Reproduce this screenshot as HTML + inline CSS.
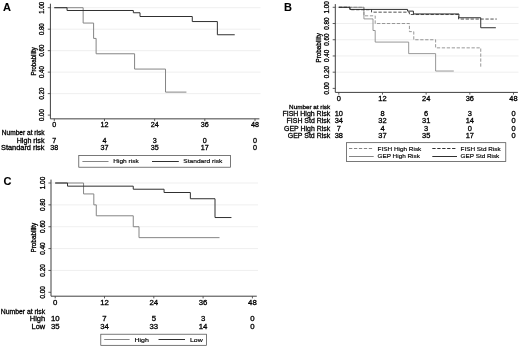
<!DOCTYPE html>
<html><head><meta charset="utf-8"><title>Figure</title>
<style>
html,body{margin:0;padding:0;background:#fff;}
svg{display:block;}
svg text{font-family:"Liberation Sans",Arial,sans-serif;fill:#000;}
</style></head>
<body>
<svg width="520" height="351" viewBox="0 0 520 351">
<rect width="520" height="351" fill="#fff"/>
<line x1="50.90" x2="260.50" y1="93.62" y2="93.62" stroke="#e4e4e4" stroke-width="0.6"/>
<line x1="50.90" x2="260.50" y1="72.14" y2="72.14" stroke="#e4e4e4" stroke-width="0.6"/>
<line x1="50.90" x2="260.50" y1="50.66" y2="50.66" stroke="#e4e4e4" stroke-width="0.6"/>
<line x1="50.90" x2="260.50" y1="29.18" y2="29.18" stroke="#e4e4e4" stroke-width="0.6"/>
<line x1="50.90" x2="260.50" y1="7.70" y2="7.70" stroke="#e4e4e4" stroke-width="0.6"/>
<path d="M50.40 3.70 V118.85 H259.40" fill="none" stroke="#404040" stroke-width="1.0"/>
<line x1="47.80" x2="50.40" y1="115.10" y2="115.10" stroke="#404040" stroke-width="0.85"/>
<text transform="translate(43.90 115.10) scale(1.13 1) rotate(-90)" text-anchor="middle" font-size="6.1" stroke="#000" stroke-width="0.28">0.00</text>
<line x1="47.80" x2="50.40" y1="93.62" y2="93.62" stroke="#404040" stroke-width="0.85"/>
<text transform="translate(43.90 93.62) scale(1.13 1) rotate(-90)" text-anchor="middle" font-size="6.1" stroke="#000" stroke-width="0.28">0.20</text>
<line x1="47.80" x2="50.40" y1="72.14" y2="72.14" stroke="#404040" stroke-width="0.85"/>
<text transform="translate(43.90 72.14) scale(1.13 1) rotate(-90)" text-anchor="middle" font-size="6.1" stroke="#000" stroke-width="0.28">0.40</text>
<line x1="47.80" x2="50.40" y1="50.66" y2="50.66" stroke="#404040" stroke-width="0.85"/>
<text transform="translate(43.90 50.66) scale(1.13 1) rotate(-90)" text-anchor="middle" font-size="6.1" stroke="#000" stroke-width="0.28">0.60</text>
<line x1="47.80" x2="50.40" y1="29.18" y2="29.18" stroke="#404040" stroke-width="0.85"/>
<text transform="translate(43.90 29.18) scale(1.13 1) rotate(-90)" text-anchor="middle" font-size="6.1" stroke="#000" stroke-width="0.28">0.80</text>
<line x1="47.80" x2="50.40" y1="7.70" y2="7.70" stroke="#404040" stroke-width="0.85"/>
<text transform="translate(43.90 7.70) scale(1.13 1) rotate(-90)" text-anchor="middle" font-size="6.1" stroke="#000" stroke-width="0.28">1.00</text>
<line x1="54.30" x2="54.30" y1="118.85" y2="121.05" stroke="#404040" stroke-width="0.85"/>
<text transform="translate(54.30 127.19) scale(1.13 1)" text-anchor="middle" font-size="6.35" stroke="#000" stroke-width="0.28">0</text>
<line x1="104.47" x2="104.47" y1="118.85" y2="121.05" stroke="#404040" stroke-width="0.85"/>
<text transform="translate(104.47 127.19) scale(1.13 1)" text-anchor="middle" font-size="6.35" stroke="#000" stroke-width="0.28">12</text>
<line x1="154.65" x2="154.65" y1="118.85" y2="121.05" stroke="#404040" stroke-width="0.85"/>
<text transform="translate(154.65 127.19) scale(1.13 1)" text-anchor="middle" font-size="6.35" stroke="#000" stroke-width="0.28">24</text>
<line x1="204.82" x2="204.82" y1="118.85" y2="121.05" stroke="#404040" stroke-width="0.85"/>
<text transform="translate(204.82 127.19) scale(1.13 1)" text-anchor="middle" font-size="6.35" stroke="#000" stroke-width="0.28">36</text>
<line x1="255.00" x2="255.00" y1="118.85" y2="121.05" stroke="#404040" stroke-width="0.85"/>
<text transform="translate(255.00 127.19) scale(1.13 1)" text-anchor="middle" font-size="6.35" stroke="#000" stroke-width="0.28">48</text>
<text transform="translate(35.80 61.40) scale(1.13 1) rotate(-90)" text-anchor="middle" font-size="6.1" stroke="#000" stroke-width="0.28">Probability</text>
<text x="3.00" y="11.40" font-size="11" font-weight="bold" stroke="#000" stroke-width="0.1">A</text>
<path d="M54.30 7.70 H83.15 V23.06 H93.60 V38.42 H96.11 V53.77 H134.58 V69.07 H165.52 V92.12 H186.43" fill="none" stroke="#858585" stroke-width="1.0"/>
<path d="M54.30 7.70 H67.05 V10.49 H133.33 V12.75 H140.02 V16.51 H192.28 V21.55 H217.37 V34.76 H234.72" fill="none" stroke="#303030" stroke-width="1.0"/>
<text x="44.50" y="135.29" text-anchor="end" font-size="6.35" textLength="42.70" lengthAdjust="spacingAndGlyphs" stroke="#000" stroke-width="0.28">Number at risk</text>
<text x="44.50" y="142.54" text-anchor="end" font-size="6.35" textLength="27.80" lengthAdjust="spacingAndGlyphs" stroke="#000" stroke-width="0.28">High risk</text>
<text transform="translate(54.30 142.54) scale(1.13 1)" text-anchor="middle" font-size="6.35" stroke="#000" stroke-width="0.28">7</text>
<text transform="translate(104.47 142.54) scale(1.13 1)" text-anchor="middle" font-size="6.35" stroke="#000" stroke-width="0.28">4</text>
<text transform="translate(154.65 142.54) scale(1.13 1)" text-anchor="middle" font-size="6.35" stroke="#000" stroke-width="0.28">3</text>
<text transform="translate(204.82 142.54) scale(1.13 1)" text-anchor="middle" font-size="6.35" stroke="#000" stroke-width="0.28">0</text>
<text transform="translate(255.00 142.54) scale(1.13 1)" text-anchor="middle" font-size="6.35" stroke="#000" stroke-width="0.28">0</text>
<text x="44.50" y="150.49" text-anchor="end" font-size="6.35" textLength="43.50" lengthAdjust="spacingAndGlyphs" stroke="#000" stroke-width="0.28">Standard risk</text>
<text transform="translate(54.30 150.49) scale(1.13 1)" text-anchor="middle" font-size="6.35" stroke="#000" stroke-width="0.28">38</text>
<text transform="translate(104.47 150.49) scale(1.13 1)" text-anchor="middle" font-size="6.35" stroke="#000" stroke-width="0.28">37</text>
<text transform="translate(154.65 150.49) scale(1.13 1)" text-anchor="middle" font-size="6.35" stroke="#000" stroke-width="0.28">35</text>
<text transform="translate(204.82 150.49) scale(1.13 1)" text-anchor="middle" font-size="6.35" stroke="#000" stroke-width="0.28">17</text>
<text transform="translate(255.00 150.49) scale(1.13 1)" text-anchor="middle" font-size="6.35" stroke="#000" stroke-width="0.28">0</text>
<rect x="78.80" y="155.40" width="151.60" height="11.80" fill="#fff" stroke="#404040" stroke-width="0.7"/>
<line x1="82.40" x2="108.50" y1="161.50" y2="161.50" stroke="#858585" stroke-width="1.0"/>
<text x="113.30" y="163.43" font-size="6.2" textLength="25.40" lengthAdjust="spacingAndGlyphs" stroke="#000" stroke-width="0.16">High risk</text>
<line x1="152.00" x2="178.80" y1="161.50" y2="161.50" stroke="#303030" stroke-width="1.0"/>
<text x="183.30" y="163.43" font-size="6.2" textLength="39.00" lengthAdjust="spacingAndGlyphs" stroke="#000" stroke-width="0.16">Standard risk</text>
<line x1="335.80" x2="518.50" y1="72.18" y2="72.18" stroke="#e4e4e4" stroke-width="0.6"/>
<line x1="335.80" x2="518.50" y1="55.96" y2="55.96" stroke="#e4e4e4" stroke-width="0.6"/>
<line x1="335.80" x2="518.50" y1="39.74" y2="39.74" stroke="#e4e4e4" stroke-width="0.6"/>
<line x1="335.80" x2="518.50" y1="23.52" y2="23.52" stroke="#e4e4e4" stroke-width="0.6"/>
<line x1="335.80" x2="518.50" y1="7.30" y2="7.30" stroke="#e4e4e4" stroke-width="0.6"/>
<path d="M335.30 4.10 V92.40 H517.90" fill="none" stroke="#404040" stroke-width="1.0"/>
<line x1="332.70" x2="335.30" y1="88.40" y2="88.40" stroke="#404040" stroke-width="0.85"/>
<text transform="translate(329.00 88.40) scale(1.13 1) rotate(-90)" text-anchor="middle" font-size="6.3" stroke="#000" stroke-width="0.28">0.00</text>
<line x1="332.70" x2="335.30" y1="72.18" y2="72.18" stroke="#404040" stroke-width="0.85"/>
<text transform="translate(329.00 72.18) scale(1.13 1) rotate(-90)" text-anchor="middle" font-size="6.3" stroke="#000" stroke-width="0.28">0.20</text>
<line x1="332.70" x2="335.30" y1="55.96" y2="55.96" stroke="#404040" stroke-width="0.85"/>
<text transform="translate(329.00 55.96) scale(1.13 1) rotate(-90)" text-anchor="middle" font-size="6.3" stroke="#000" stroke-width="0.28">0.40</text>
<line x1="332.70" x2="335.30" y1="39.74" y2="39.74" stroke="#404040" stroke-width="0.85"/>
<text transform="translate(329.00 39.74) scale(1.13 1) rotate(-90)" text-anchor="middle" font-size="6.3" stroke="#000" stroke-width="0.28">0.60</text>
<line x1="332.70" x2="335.30" y1="23.52" y2="23.52" stroke="#404040" stroke-width="0.85"/>
<text transform="translate(329.00 23.52) scale(1.13 1) rotate(-90)" text-anchor="middle" font-size="6.3" stroke="#000" stroke-width="0.28">0.80</text>
<line x1="332.70" x2="335.30" y1="7.30" y2="7.30" stroke="#404040" stroke-width="0.85"/>
<text transform="translate(329.00 7.30) scale(1.13 1) rotate(-90)" text-anchor="middle" font-size="6.3" stroke="#000" stroke-width="0.28">1.00</text>
<line x1="338.80" x2="338.80" y1="92.40" y2="94.60" stroke="#404040" stroke-width="0.85"/>
<text transform="translate(338.80 100.88) scale(1.13 1)" text-anchor="middle" font-size="6.6" stroke="#000" stroke-width="0.28">0</text>
<line x1="382.48" x2="382.48" y1="92.40" y2="94.60" stroke="#404040" stroke-width="0.85"/>
<text transform="translate(382.48 100.88) scale(1.13 1)" text-anchor="middle" font-size="6.6" stroke="#000" stroke-width="0.28">12</text>
<line x1="426.15" x2="426.15" y1="92.40" y2="94.60" stroke="#404040" stroke-width="0.85"/>
<text transform="translate(426.15 100.88) scale(1.13 1)" text-anchor="middle" font-size="6.6" stroke="#000" stroke-width="0.28">24</text>
<line x1="469.82" x2="469.82" y1="92.40" y2="94.60" stroke="#404040" stroke-width="0.85"/>
<text transform="translate(469.82 100.88) scale(1.13 1)" text-anchor="middle" font-size="6.6" stroke="#000" stroke-width="0.28">36</text>
<line x1="513.50" x2="513.50" y1="92.40" y2="94.60" stroke="#404040" stroke-width="0.85"/>
<text transform="translate(513.50 100.88) scale(1.13 1)" text-anchor="middle" font-size="6.6" stroke="#000" stroke-width="0.28">48</text>
<text transform="translate(320.80 47.85) scale(1.13 1) rotate(-90)" text-anchor="middle" font-size="6.3" stroke="#000" stroke-width="0.28">Probability</text>
<text x="284.00" y="11.20" font-size="11" font-weight="bold" stroke="#000" stroke-width="0.1">B</text>
<path d="M338.80 7.30 H363.91 V15.82 H375.20 V23.52 H409.41 V31.63 H413.78 V39.74 H435.61 V47.85 H480.74 V68.12" fill="none" stroke="#858585" stroke-width="0.85" stroke-dasharray="3.3 1.65"/>
<path d="M338.80 7.30 H363.91 V18.90 H373.01 V30.49 H375.20 V42.09 H408.68 V53.64 H435.61 V71.04 H453.81" fill="none" stroke="#858585" stroke-width="0.85"/>
<path d="M338.80 7.30 H349.90 V9.73 H371.56 V12.17 H409.41 V14.52 H458.54 V19.06 H496.76" fill="none" stroke="#303030" stroke-width="0.85" stroke-dasharray="3.3 1.65"/>
<path d="M338.80 7.30 H349.90 V9.41 H407.59 V11.11 H413.41 V13.95 H458.91 V17.76 H480.74 V27.74 H495.85" fill="none" stroke="#303030" stroke-width="1.0"/>
<text x="330.20" y="108.78" text-anchor="end" font-size="6.1" textLength="41.10" lengthAdjust="spacingAndGlyphs" stroke="#000" stroke-width="0.28">Number at risk</text>
<text x="330.20" y="115.78" text-anchor="end" font-size="6.6" textLength="47.75" lengthAdjust="spacingAndGlyphs" stroke="#000" stroke-width="0.28">FISH High Risk</text>
<text transform="translate(338.80 115.78) scale(1.13 1)" text-anchor="middle" font-size="6.6" stroke="#000" stroke-width="0.28">10</text>
<text transform="translate(382.48 115.78) scale(1.13 1)" text-anchor="middle" font-size="6.6" stroke="#000" stroke-width="0.28">8</text>
<text transform="translate(426.15 115.78) scale(1.13 1)" text-anchor="middle" font-size="6.6" stroke="#000" stroke-width="0.28">6</text>
<text transform="translate(469.82 115.78) scale(1.13 1)" text-anchor="middle" font-size="6.6" stroke="#000" stroke-width="0.28">3</text>
<text transform="translate(513.50 115.78) scale(1.13 1)" text-anchor="middle" font-size="6.6" stroke="#000" stroke-width="0.28">0</text>
<text x="330.20" y="123.28" text-anchor="end" font-size="6.6" textLength="43.60" lengthAdjust="spacingAndGlyphs" stroke="#000" stroke-width="0.28">FISH Std Risk</text>
<text transform="translate(338.80 123.28) scale(1.13 1)" text-anchor="middle" font-size="6.6" stroke="#000" stroke-width="0.28">34</text>
<text transform="translate(382.48 123.28) scale(1.13 1)" text-anchor="middle" font-size="6.6" stroke="#000" stroke-width="0.28">32</text>
<text transform="translate(426.15 123.28) scale(1.13 1)" text-anchor="middle" font-size="6.6" stroke="#000" stroke-width="0.28">31</text>
<text transform="translate(469.82 123.28) scale(1.13 1)" text-anchor="middle" font-size="6.6" stroke="#000" stroke-width="0.28">14</text>
<text transform="translate(513.50 123.28) scale(1.13 1)" text-anchor="middle" font-size="6.6" stroke="#000" stroke-width="0.28">0</text>
<text x="330.20" y="130.78" text-anchor="end" font-size="6.6" textLength="46.10" lengthAdjust="spacingAndGlyphs" stroke="#000" stroke-width="0.28">GEP High Risk</text>
<text transform="translate(338.80 130.78) scale(1.13 1)" text-anchor="middle" font-size="6.6" stroke="#000" stroke-width="0.28">7</text>
<text transform="translate(382.48 130.78) scale(1.13 1)" text-anchor="middle" font-size="6.6" stroke="#000" stroke-width="0.28">4</text>
<text transform="translate(426.15 130.78) scale(1.13 1)" text-anchor="middle" font-size="6.6" stroke="#000" stroke-width="0.28">3</text>
<text transform="translate(469.82 130.78) scale(1.13 1)" text-anchor="middle" font-size="6.6" stroke="#000" stroke-width="0.28">0</text>
<text transform="translate(513.50 130.78) scale(1.13 1)" text-anchor="middle" font-size="6.6" stroke="#000" stroke-width="0.28">0</text>
<text x="330.20" y="138.28" text-anchor="end" font-size="6.6" textLength="42.40" lengthAdjust="spacingAndGlyphs" stroke="#000" stroke-width="0.28">GEP Std Risk</text>
<text transform="translate(338.80 138.28) scale(1.13 1)" text-anchor="middle" font-size="6.6" stroke="#000" stroke-width="0.28">38</text>
<text transform="translate(382.48 138.28) scale(1.13 1)" text-anchor="middle" font-size="6.6" stroke="#000" stroke-width="0.28">37</text>
<text transform="translate(426.15 138.28) scale(1.13 1)" text-anchor="middle" font-size="6.6" stroke="#000" stroke-width="0.28">35</text>
<text transform="translate(469.82 138.28) scale(1.13 1)" text-anchor="middle" font-size="6.6" stroke="#000" stroke-width="0.28">17</text>
<text transform="translate(513.50 138.28) scale(1.13 1)" text-anchor="middle" font-size="6.6" stroke="#000" stroke-width="0.28">0</text>
<rect x="346.60" y="142.70" width="159.20" height="18.90" fill="#fff" stroke="#404040" stroke-width="0.7"/>
<line x1="349.00" x2="373.70" y1="148.50" y2="148.50" stroke="#858585" stroke-width="1.0" stroke-dasharray="3.3 1.65"/>
<text x="377.50" y="150.73" font-size="6.2" textLength="43.80" lengthAdjust="spacingAndGlyphs" stroke="#000" stroke-width="0.16">FISH High Risk</text>
<line x1="432.30" x2="457.00" y1="148.50" y2="148.50" stroke="#303030" stroke-width="1.0" stroke-dasharray="3.3 1.65"/>
<text x="460.60" y="150.73" font-size="6.2" textLength="40.00" lengthAdjust="spacingAndGlyphs" stroke="#000" stroke-width="0.16">FISH Std Risk</text>
<line x1="349.00" x2="373.70" y1="156.50" y2="156.50" stroke="#858585" stroke-width="1.0"/>
<text x="377.50" y="158.43" font-size="6.2" textLength="42.40" lengthAdjust="spacingAndGlyphs" stroke="#000" stroke-width="0.16">GEP High Risk</text>
<line x1="432.30" x2="457.00" y1="156.50" y2="156.50" stroke="#303030" stroke-width="1.0"/>
<text x="460.60" y="158.43" font-size="6.2" textLength="38.70" lengthAdjust="spacingAndGlyphs" stroke="#000" stroke-width="0.16">GEP Std Risk</text>
<line x1="51.50" x2="258.00" y1="270.44" y2="270.44" stroke="#e4e4e4" stroke-width="0.6"/>
<line x1="51.50" x2="258.00" y1="248.58" y2="248.58" stroke="#e4e4e4" stroke-width="0.6"/>
<line x1="51.50" x2="258.00" y1="226.72" y2="226.72" stroke="#e4e4e4" stroke-width="0.6"/>
<line x1="51.50" x2="258.00" y1="204.86" y2="204.86" stroke="#e4e4e4" stroke-width="0.6"/>
<line x1="51.50" x2="258.00" y1="183.00" y2="183.00" stroke="#e4e4e4" stroke-width="0.6"/>
<path d="M51.00 179.60 V296.20 H256.80" fill="none" stroke="#404040" stroke-width="1.0"/>
<line x1="48.40" x2="51.00" y1="292.30" y2="292.30" stroke="#404040" stroke-width="0.85"/>
<text transform="translate(44.50 292.30) scale(1.18 1) rotate(-90)" text-anchor="middle" font-size="6.4" stroke="#000" stroke-width="0.28">0.00</text>
<line x1="48.40" x2="51.00" y1="270.44" y2="270.44" stroke="#404040" stroke-width="0.85"/>
<text transform="translate(44.50 270.44) scale(1.18 1) rotate(-90)" text-anchor="middle" font-size="6.4" stroke="#000" stroke-width="0.28">0.20</text>
<line x1="48.40" x2="51.00" y1="248.58" y2="248.58" stroke="#404040" stroke-width="0.85"/>
<text transform="translate(44.50 248.58) scale(1.18 1) rotate(-90)" text-anchor="middle" font-size="6.4" stroke="#000" stroke-width="0.28">0.40</text>
<line x1="48.40" x2="51.00" y1="226.72" y2="226.72" stroke="#404040" stroke-width="0.85"/>
<text transform="translate(44.50 226.72) scale(1.18 1) rotate(-90)" text-anchor="middle" font-size="6.4" stroke="#000" stroke-width="0.28">0.60</text>
<line x1="48.40" x2="51.00" y1="204.86" y2="204.86" stroke="#404040" stroke-width="0.85"/>
<text transform="translate(44.50 204.86) scale(1.18 1) rotate(-90)" text-anchor="middle" font-size="6.4" stroke="#000" stroke-width="0.28">0.80</text>
<line x1="48.40" x2="51.00" y1="183.00" y2="183.00" stroke="#404040" stroke-width="0.85"/>
<text transform="translate(44.50 183.00) scale(1.18 1) rotate(-90)" text-anchor="middle" font-size="6.4" stroke="#000" stroke-width="0.28">1.00</text>
<line x1="55.20" x2="55.20" y1="296.20" y2="298.40" stroke="#404040" stroke-width="0.85"/>
<text transform="translate(55.20 305.38) scale(1.18 1)" text-anchor="middle" font-size="6.6" stroke="#000" stroke-width="0.28">0</text>
<line x1="104.50" x2="104.50" y1="296.20" y2="298.40" stroke="#404040" stroke-width="0.85"/>
<text transform="translate(104.50 305.38) scale(1.18 1)" text-anchor="middle" font-size="6.6" stroke="#000" stroke-width="0.28">12</text>
<line x1="153.80" x2="153.80" y1="296.20" y2="298.40" stroke="#404040" stroke-width="0.85"/>
<text transform="translate(153.80 305.38) scale(1.18 1)" text-anchor="middle" font-size="6.6" stroke="#000" stroke-width="0.28">24</text>
<line x1="203.10" x2="203.10" y1="296.20" y2="298.40" stroke="#404040" stroke-width="0.85"/>
<text transform="translate(203.10 305.38) scale(1.18 1)" text-anchor="middle" font-size="6.6" stroke="#000" stroke-width="0.28">36</text>
<line x1="252.40" x2="252.40" y1="296.20" y2="298.40" stroke="#404040" stroke-width="0.85"/>
<text transform="translate(252.40 305.38) scale(1.18 1)" text-anchor="middle" font-size="6.6" stroke="#000" stroke-width="0.28">48</text>
<text transform="translate(36.20 237.65) scale(1.18 1) rotate(-90)" text-anchor="middle" font-size="6.4" stroke="#000" stroke-width="0.28">Probability</text>
<text x="3.40" y="184.90" font-size="11" font-weight="bold" stroke="#000" stroke-width="0.1">C</text>
<path d="M55.20 183.00 H83.55 V193.93 H93.82 V204.86 H96.28 V215.79 H133.26 V226.72 H139.01 V237.65 H219.53" fill="none" stroke="#858585" stroke-width="1.0"/>
<path d="M55.20 183.00 H67.53 V186.17 H133.26 V189.23 H164.07 V192.51 H190.36 V198.74 H215.01 V217.54 H231.45" fill="none" stroke="#303030" stroke-width="1.0"/>
<text x="45.20" y="313.98" text-anchor="end" font-size="6.5" textLength="44.50" lengthAdjust="spacingAndGlyphs" stroke="#000" stroke-width="0.28">Number at risk</text>
<text x="45.20" y="321.48" text-anchor="end" font-size="6.6" textLength="15.50" lengthAdjust="spacingAndGlyphs" stroke="#000" stroke-width="0.28">High</text>
<text transform="translate(55.20 321.48) scale(1.18 1)" text-anchor="middle" font-size="6.6" stroke="#000" stroke-width="0.28">10</text>
<text transform="translate(104.50 321.48) scale(1.18 1)" text-anchor="middle" font-size="6.6" stroke="#000" stroke-width="0.28">7</text>
<text transform="translate(153.80 321.48) scale(1.18 1)" text-anchor="middle" font-size="6.6" stroke="#000" stroke-width="0.28">5</text>
<text transform="translate(203.10 321.48) scale(1.18 1)" text-anchor="middle" font-size="6.6" stroke="#000" stroke-width="0.28">3</text>
<text transform="translate(252.40 321.48) scale(1.18 1)" text-anchor="middle" font-size="6.6" stroke="#000" stroke-width="0.28">0</text>
<text x="45.20" y="328.88" text-anchor="end" font-size="6.6" textLength="13.60" lengthAdjust="spacingAndGlyphs" stroke="#000" stroke-width="0.28">Low</text>
<text transform="translate(55.20 328.88) scale(1.18 1)" text-anchor="middle" font-size="6.6" stroke="#000" stroke-width="0.28">35</text>
<text transform="translate(104.50 328.88) scale(1.18 1)" text-anchor="middle" font-size="6.6" stroke="#000" stroke-width="0.28">34</text>
<text transform="translate(153.80 328.88) scale(1.18 1)" text-anchor="middle" font-size="6.6" stroke="#000" stroke-width="0.28">33</text>
<text transform="translate(203.10 328.88) scale(1.18 1)" text-anchor="middle" font-size="6.6" stroke="#000" stroke-width="0.28">14</text>
<text transform="translate(252.40 328.88) scale(1.18 1)" text-anchor="middle" font-size="6.6" stroke="#000" stroke-width="0.28">0</text>
<rect x="100.80" y="334.20" width="105.70" height="11.10" fill="#fff" stroke="#404040" stroke-width="0.7"/>
<line x1="104.20" x2="129.60" y1="339.50" y2="339.50" stroke="#858585" stroke-width="1.0"/>
<text x="134.50" y="341.83" font-size="6.2" textLength="14.40" lengthAdjust="spacingAndGlyphs" stroke="#000" stroke-width="0.16">High</text>
<line x1="158.50" x2="185.00" y1="339.50" y2="339.50" stroke="#303030" stroke-width="1.0"/>
<text x="190.00" y="341.83" font-size="6.2" textLength="12.70" lengthAdjust="spacingAndGlyphs" stroke="#000" stroke-width="0.16">Low</text>
</svg>
</body></html>
